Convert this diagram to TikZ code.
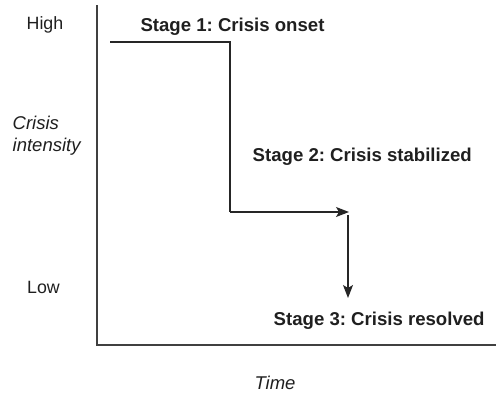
\documentclass[tikz,border=0pt]{standalone}
\usepackage{fontspec}
\setmainfont{Liberation Sans}
\usetikzlibrary{arrows.meta}
\begin{document}
\frenchspacing
\begin{tikzpicture}[x=1pt,y=-1pt,
  lbl/.style={font=\fontsize{17.8}{20}\selectfont, inner sep=0pt, text=black!88},
  ilbl/.style={font=\fontsize{18.5}{21}\selectfont\itshape, inner sep=0pt, text=black!88},
  stage/.style={font=\fontsize{18.6}{21}\selectfont\bfseries, inner sep=0pt, text=black!88},
  axis/.style={line width=1.2pt, draw=black!75},
  curve/.style={line width=1.3pt, draw=black!85},
  arr/.style={curve, -{Stealth[length=13pt,width=10pt,inset=3pt]}}]
\useasboundingbox (0,0) rectangle (497,394);
% axes
\coordinate (ytop) at (97,5);
\coordinate (org) at (97,345);
\coordinate (xend) at (496,345);
\draw[axis] (ytop) -- (org) -- (xend);
% axis labels
\node[lbl] (high) at (45,25) {High};
\node[lbl] (low) at (43.5,287) {Low};
\node[ilbl, anchor=west] (crisis) at (12.5,123) {Crisis};
\node[ilbl, anchor=west] (intens) at (12.5,147) {intensity};
\node[ilbl] (time) at (275,383) {Time};
% path
\coordinate (s1a) at (110,42);
\coordinate (s1b) at (230,42);
\coordinate (s2a) at (230,212);
\coordinate (s2b) at (349,212);
\coordinate (s3a) at (348,215);
\coordinate (s3b) at (348,298);
\draw[curve] (s1a) -- (s1b) -- (s2a);
\draw[arr] (s2a) -- (s2b);
\draw[arr] (s3a) -- (s3b);
% stage labels
\node[stage] (st1) at (232.5,27) {Stage 1: Crisis onset};
\node[stage, anchor=west] (st2) at (252.5,157) {Stage 2: Crisis stabilized};
\node[stage, anchor=west] (st3) at (273.5,321) {Stage 3: Crisis resolved};
\end{tikzpicture}
\end{document}
